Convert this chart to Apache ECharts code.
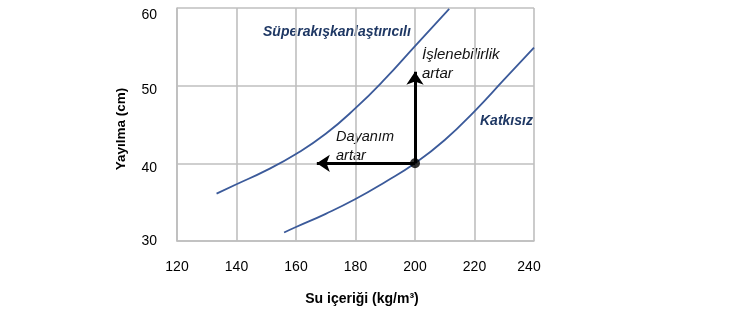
<!DOCTYPE html>
<html>
<head>
<meta charset="utf-8">
<script src="https://cdn.jsdelivr.net/npm/echarts@6/dist/echarts.min.js"></script>
<style>
html,body{margin:0;padding:0;background:#fff;}
#c{width:729px;height:335px;}
</style>
</head>
<body>
<div id="c"></div>
<script>
// Data
var xTicks = [120, 140, 160, 180, 200, 220, 240];
var yTicks = [30, 40, 50, 60];
var superX = [133.3, 140, 150, 160, 170, 180, 190, 200, 211.5];
var superY = [36.1, 37.3, 39.1, 41.2, 43.8, 47.1, 50.9, 55.1, 59.9];
var katX = [156, 160, 170, 180, 190, 200, 210, 220, 230, 240];
var katY = [31.1, 31.8, 33.5, 35.4, 37.6, 40.0, 43.0, 46.7, 50.8, 54.9];
var refPoint = [200, 40];
var arrowUpEnd = [200, 51.8];
var arrowLeftEnd = [167, 40];
var labels = {
  superName: 'Süperakışkanlaştırıcılı',
  katName: 'Katkısız',
  workability: 'İşlenebilirlik\nartar',
  strength: 'Dayanım\nartar',
  xTitle: 'Su içeriği (kg/m³)',
  yTitle: 'Yayılma (cm)'
};

function zip(xs, ys){ return xs.map(function(x,i){ return [x, ys[i]]; }); }

var chart = echarts.init(document.getElementById('c'), null, {renderer:'canvas'});
var FONT = 'Liberation Sans';
var curveColor = '#3B5A9A';
var navy = '#1F3864';

// small label offsets as in the reference
var yLabelPad = {60: 14, 50: 8, 40: 10, 30: 0};

var option = {
  animation: false,
  grid: {left: 177, top: 8, width: 357, height: 233},
  xAxis: {
    type: 'value', min: xTicks[0], max: xTicks[xTicks.length-1], interval: 20,
    axisLine: {show: true, lineStyle: {color: '#BFBFBF', width: 1.6}},
    axisTick: {show: false},
    axisLabel: {margin: 19, color: '#000', fontSize: 14, fontFamily: FONT,
      formatter: function(v){ return v === 240 ? '{e|' + v + '}' : '{n|' + v + '}'; },
      rich: {
        n: {fontSize: 14, fontFamily: FONT, color: '#000'},
        e: {fontSize: 14, fontFamily: FONT, color: '#000', padding: [0, 10, 4, 0]}
      }},
    splitLine: {show: true, lineStyle: {color: '#BFBFBF', width: 1.6}}
  },
  yAxis: {
    type: 'value', min: yTicks[0], max: yTicks[yTicks.length-1], interval: 10,
    axisLine: {show: true, lineStyle: {color: '#BFBFBF', width: 1.6}},
    axisTick: {show: false},
    axisLabel: {margin: 20, color: '#000', fontSize: 14, fontFamily: FONT,
      formatter: function(v){ return '{p' + v + '|' + v + '}'; },
      rich: (function(){
        var r = {};
        yTicks.forEach(function(t){
          r['p' + t] = {fontSize: 14, fontFamily: FONT, color: '#000', padding: [yLabelPad[t] || 0, 0, 0, 0]};
        });
        return r;
      })()},
    splitLine: {show: true, lineStyle: {color: '#BFBFBF', width: 1.6}}
  },
  series: [
    {type: 'line', data: zip(superX, superY), smooth: 0.5, showSymbol: false,
     lineStyle: {color: curveColor, width: 1.8}, z: 3},
    {type: 'line', data: zip(katX, katY), smooth: 0.5, showSymbol: false,
     lineStyle: {color: curveColor, width: 1.8}, z: 3},
    {type: 'lines', coordinateSystem: 'cartesian2d', z: 4,
     symbol: ['none', 'arrow'], symbolSize: 13,
     lineStyle: {color: '#000', width: 3, opacity: 1},
     data: [{coords: [refPoint, arrowUpEnd]}, {coords: [refPoint, arrowLeftEnd]}]},
    {type: 'scatter', data: [refPoint], symbolSize: 10, itemStyle: {color: '#000'}, z: 5}
  ],
  graphic: [
    {type: 'text', left: 263, top: 25, style: {text: labels.superName, fill: navy,
      font: 'italic bold 14px ' + FONT}},
    {type: 'text', left: 480, top: 114, style: {text: labels.katName, fill: navy,
      font: 'italic bold 14px ' + FONT}},
    {type: 'text', left: 422, top: 45, style: {text: labels.workability, fill: '#111',
      font: 'italic 15px ' + FONT, lineHeight: 19}},
    {type: 'text', left: 336, top: 127, style: {text: labels.strength, fill: '#111',
      font: 'italic 14.5px ' + FONT, lineHeight: 19}},
    {type: 'text', x: 362, y: 299, style: {text: labels.xTitle, fill: '#000',
      font: 'bold 14px ' + FONT, align: 'center', verticalAlign: 'middle'}},
    {type: 'text', x: 121, y: 129, rotation: Math.PI/2, style: {text: labels.yTitle, fill: '#000',
      font: 'bold 13.5px ' + FONT, align: 'center', verticalAlign: 'middle'}}
  ]
};
chart.setOption(option);
</script>
</body>
</html>
